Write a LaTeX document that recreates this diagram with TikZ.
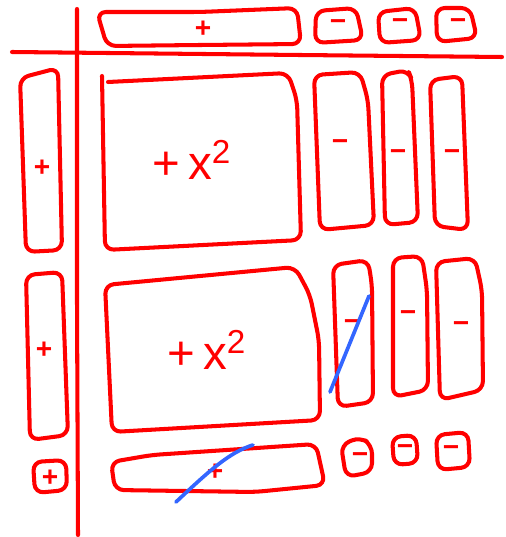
\documentclass[tikz,border=0pt]{standalone}
\usepackage{fontspec}
\setmainfont{Liberation Sans}
\definecolor{tred}{RGB}{255,0,0}
\definecolor{tblue}{RGB}{51,102,255}
\tikzset{
  tile/.style={draw=tred, line width=2.3pt, rounded corners=5pt, line join=round, line cap=round},
  axis/.style={draw=tred, line width=2.3pt, line cap=round},
  cut/.style={draw=tblue, line width=2.1pt, line cap=round},
  sgn/.style={text=tred, font=\bfseries\fontsize{16}{16}\selectfont, inner sep=0pt},
  big/.style={text=tred, font=\fontsize{27}{28}\selectfont, inner sep=0pt}
}
\begin{document}
\begin{tikzpicture}[x=0.02cm,y=-0.02cm]
\useasboundingbox (0,0) rectangle (505,537);
% axes
\draw[axis] (12,52) -- (300,55) -- (502,57);
\draw[axis] (77,9) -- (77,300) -- (78,535);
% top row
\draw[tile] (97,12) -- (200,12) -- (297,8) -- (301,44) -- (200,45) -- (107,46) -- cycle;
\draw[tile] (316,11) -- (356,8) -- (363,40) -- (315,43) -- cycle;
\draw[tile] (378,12) -- (415,8) -- (421,40) -- (380,43) -- cycle;
\draw[tile] (436,8) -- (470,8) -- (477,38) -- (437,42) -- cycle;
% left column
\draw[tile] (20,78) -- (58,68) -- (62,250) -- (26,252) -- cycle;
\draw[tile] (26,275) -- (62,272) -- (68,435) -- (30,440) -- cycle;
\draw[tile] (33,462) -- (66,460) -- (67,490) -- (35,493) -- cycle;
% big squares
\draw[tile] (108,82) -- (288,73) -- (297,100) -- (301,240) -- (105,250) -- (102,76);
\draw[tile] (105,285) -- (295,267) -- (310,295) -- (319,340) -- (320,420) -- (112,432) -- cycle;
% right columns row 1
\draw[tile] (314,75) -- (360,72) -- (368,100) -- (374,225) -- (320,230) -- cycle;
\draw[tile] (382,75) -- (408,70) -- (412,80) -- (418,222) -- (385,225) -- cycle;
\draw[tile] (430,80) -- (462,76) -- (468,230) -- (435,226) -- cycle;
% right columns row 2
\draw[tile] (333,265) -- (368,260) -- (372,285) -- (373,402) -- (338,407) -- cycle;
\draw[tile] (393,258) -- (422,256) -- (427,290) -- (428,390) -- (393,397) -- cycle;
\draw[tile] (436,262) -- (475,258) -- (482,290) -- (483,390) -- (440,400) -- cycle;
% bottom row
\draw[tile] (111,462) -- (152,455) -- (316,444) -- (325,485) -- (255,492) -- (115,490) -- cycle;
\draw[tile] (341,445) -- (360,437) -- (372,445) -- (372,472) -- (346,477) -- cycle;
\draw[tile] (392,437) -- (416,435) -- (418,463) -- (394,465) -- cycle;
\draw[tile] (436,435) -- (468,432) -- (470,467) -- (438,470) -- cycle;
% labels
\node[sgn] (l1) at (203,29) {+};
\node[sgn] (l2) at (338,25) {−};
\node[sgn] (l3) at (400,24) {−};
\node[sgn] (l4) at (458,24) {−};
\node[sgn] (l5) at (42,168) {+};
\node[sgn] (l6) at (44,350) {+};
\node[sgn] (l7) at (50,478) {+};
\node[big] (b1) at (192,160) {+\,x\textsuperscript{2}};
\node[big] (b2) at (207,350) {+\,x\textsuperscript{2}};
\node[sgn] (l8) at (340,145) {−};
\node[sgn] (l9) at (398,155) {−};
\node[sgn] (l10) at (452,155) {−};
\node[sgn] (l11) at (352,325) {−};
\node[sgn] (l12) at (408,316) {−};
\node[sgn] (l13) at (461,327) {−};
\node[sgn] (l14) at (215,472) {+};
\node[sgn] (l15) at (360,458) {−};
\node[sgn] (l16) at (405,450) {−};
\node[sgn] (l17) at (451,451) {−};
% blue cuts
\draw[cut] (330,392) -- (369,296);
\draw[cut] (176,502) .. controls (210,470) and (230,452) .. (253,445);
\end{tikzpicture}
\end{document}
